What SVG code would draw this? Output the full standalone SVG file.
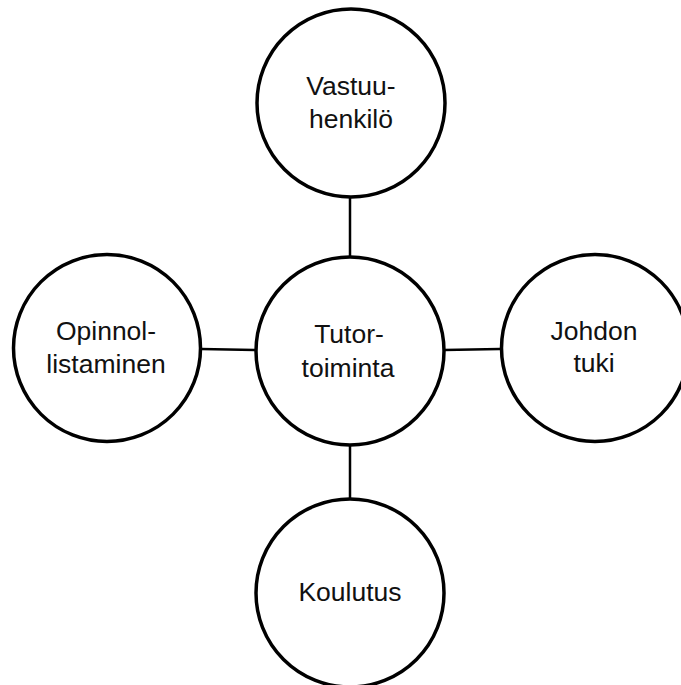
<svg xmlns="http://www.w3.org/2000/svg" width="681" height="685" viewBox="0 0 681 685">
<style>
.node circle{fill:#fff;stroke:#000;stroke-width:3.5}
.node text{font-family:"Liberation Sans",Arial,sans-serif;font-size:26.5px;fill:#111;text-anchor:middle}
.conn line{stroke:#000;stroke-width:2.5}
</style>
<rect width="681" height="685" fill="#fff"/>
<g id="connectors" class="conn">
<line x1="350" y1="196" x2="350" y2="257"/>
<line x1="201" y1="349" x2="255" y2="350"/>
<line x1="444" y1="350" x2="500" y2="349"/>
<line x1="350" y1="446" x2="350" y2="499"/>
</g>
<g id="vastuuhenkilo" class="node">
<circle cx="351" cy="103" r="94"/>
<text x="351" y="95">Vastuu-</text>
<text x="351" y="128">henkilö</text>
</g>
<g id="tutortoiminta" class="node">
<circle cx="350" cy="351" r="94"/>
<text x="349" y="343">Tutor-</text>
<text x="348" y="377">toiminta</text>
</g>
<g id="opinnollistaminen" class="node">
<circle cx="107" cy="348" r="93.5"/>
<text x="106" y="340">Opinnol-</text>
<text x="106" y="373">listaminen</text>
</g>
<g id="johdontuki" class="node">
<circle cx="595" cy="348" r="93.5"/>
<text x="594" y="340">Johdon</text>
<text x="594" y="372">tuki</text>
</g>
<g id="koulutus" class="node">
<circle cx="350" cy="593" r="94"/>
<text x="350" y="601">Koulutus</text>
</g>
</svg>
